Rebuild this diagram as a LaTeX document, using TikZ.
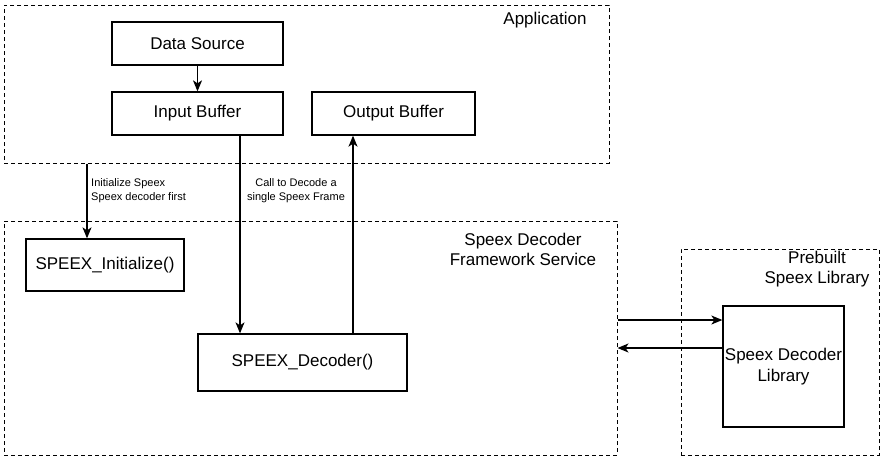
\documentclass[tikz,border=0pt]{standalone}
\usepackage{fontspec}
\setmainfont{Liberation Sans}
\usetikzlibrary{arrows.meta}
\begin{document}
\begin{tikzpicture}[x=1pt,y=-1pt,
  box/.style={draw, line width=1.3pt, inner sep=0pt, font=\fontsize{17}{21}\selectfont, align=center},
  cont/.style={draw, line width=1pt, dash pattern=on 4pt off 3pt, inner sep=0pt},
  lbl/.style={font=\fontsize{17}{20}\selectfont, align=center, inner sep=0pt},
  small/.style={font=\fontsize{11}{14}\selectfont, inner sep=0pt},
  arr/.style={line width=1.2pt, -{Stealth[length=11pt,width=9pt,inset=3pt]}},
  ln/.style={line width=1.1pt}]
\useasboundingbox (0,0) rectangle (885,461);
% containers
\node[cont, minimum width=605pt, minimum height=158pt] (app) at (306.5,84) {};
\node[cont, minimum width=613pt, minimum height=234pt] (fw) at (310.5,338) {};
\node[cont, minimum width=198pt, minimum height=206pt] (pre) at (780,352) {};
% boxes
\node[box, minimum width=171pt, minimum height=43pt] (ds) at (197.5,43.5) {Data Source};
\node[box, minimum width=171pt, minimum height=43pt] (ib) at (197.5,113.5) {Input Buffer};
\node[box, minimum width=163pt, minimum height=43pt] (ob) at (393.5,113.5) {Output Buffer};
\node[box, minimum width=158pt, minimum height=52pt] (init) at (105,265) {SPEEX\_Initialize()};
\node[box, minimum width=209pt, minimum height=57pt] (dec) at (302.5,362.5) {SPEEX\_Decoder()};
\node[box, minimum width=121pt, minimum height=121pt] (lib) at (783.5,366.5) {Speex Decoder\\Library};
% titles
\node[lbl] (tapp) at (545,20) {Application};
\node[lbl] (tfw) at (523,249) {Speex Decoder\\Framework Service};
\node[lbl] (tpre) at (817,269) {Prebuilt\\Speex Library};
% coordinates
\coordinate (xi) at (87,0);
\coordinate (xin) at (240,0);
\coordinate (xout) at (353,0);
\coordinate (y1) at (0,320);
\coordinate (y2) at (0,348);
% connectors
\draw[arr] (ds) -- (ib);
\draw[arr] (app.south -| xi) -- (init.north -| xi);
\draw[arr] (ib.south -| xin) -- (dec.north -| xin);
\draw[arr] (dec.north -| xout) -- (ob.south -| xout);
\draw[arr] (fw.east |- y1) -- (lib.west |- y1);
\draw[arr] (lib.west |- y2) -- (fw.east |- y2);
% labels
\node[small, anchor=west, align=left] (l1) at (91,191) {Initialize Speex\\Speex decoder first};
\node[small, align=center] (l2) at (296,191) {Call to Decode a\\single Speex Frame};
\end{tikzpicture}
\end{document}
